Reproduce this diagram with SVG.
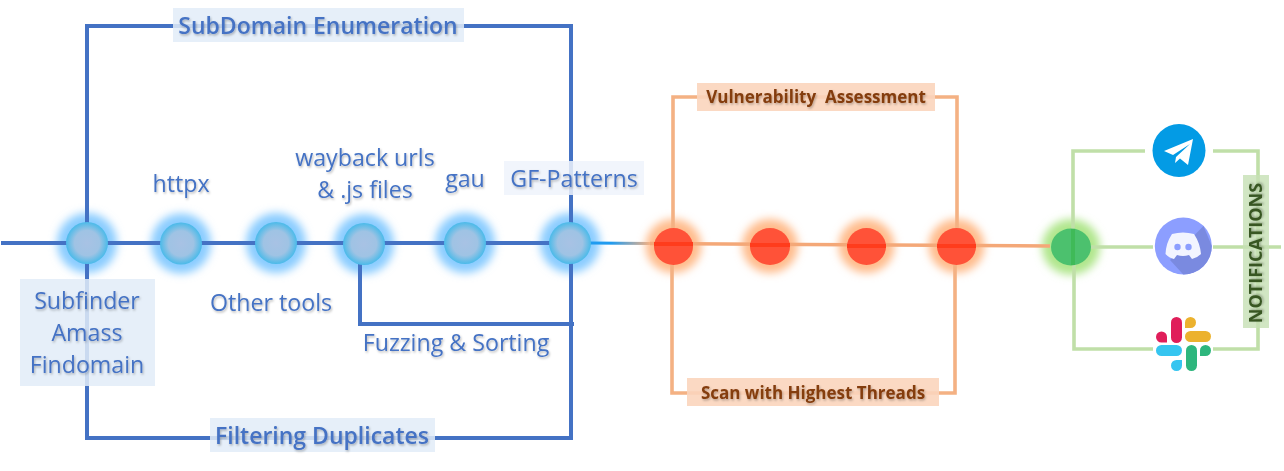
<svg xmlns="http://www.w3.org/2000/svg" width="1284" height="471" viewBox="0 0 1284 471">
<style>
text{font-family:"Open Sans","Noto Sans","Liberation Sans",sans-serif;text-anchor:middle;white-space:pre}
.t{fill:#4472c4;font-size:23.2px;filter:url(#ts)}
.tb{fill:#4472c4;font-size:23px;font-weight:600;filter:url(#ts)}
.to{fill:#843c0c;font-size:17px;font-weight:700;filter:url(#ts)}
.lb{fill:none;stroke:#4472c4;stroke-width:4}
.lo{fill:none;stroke:#f4b183;stroke-width:3.6}
.lg{fill:none;stroke:#c0dfa8;stroke-width:3.6}
.bb{fill:#e2ecf8;opacity:.85}
.bl{fill:#eef3fb;opacity:.85}
.bo{fill:#fbd5bd;opacity:.9}
.gb{fill:#8accff;filter:url(#gl)}
.bc{fill:url(#bn)}
.go{fill:#ffbc8c;filter:url(#gl)}
.rc{fill:#ff5238}
.rb{fill:#ff3c1c}
</style>
<defs>
<filter id="gl" x="-60%" y="-60%" width="220%" height="220%"><feGaussianBlur stdDeviation="4"/></filter>
<filter id="ts" x="-10%" y="-20%" width="120%" height="150%"><feDropShadow dx="1" dy="1.500" stdDeviation="1.200" flood-color="#000" flood-opacity=".28"/></filter>
<radialGradient id="bn"><stop offset="0" stop-color="#a8c2e4"/><stop offset=".6" stop-color="#9fc3e4"/><stop offset="1" stop-color="#4abae9"/></radialGradient>
<linearGradient id="fade" x1="590" x2="650" y1="0" y2="0" gradientUnits="userSpaceOnUse"><stop offset="0" stop-color="#1f9bf0"/><stop offset=".35" stop-color="#1f9bf0"/><stop offset="1" stop-color="#f4b183"/></linearGradient>
</defs>
<g id="glows">
<circle class="gb" cx="87" cy="243" r="30"/><circle class="gb" cx="181" cy="243.500" r="30"/><circle class="gb" cx="276" cy="243" r="30"/><circle class="gb" cx="364" cy="244" r="30"/><circle class="gb" cx="465" cy="243" r="30"/><circle class="gb" cx="570" cy="243" r="30"/>
<ellipse class="go" cx="673.500" cy="246" rx="28" ry="27"/><ellipse class="go" cx="770" cy="246" rx="28" ry="27"/><ellipse class="go" cx="866.500" cy="246" rx="28" ry="27"/><ellipse class="go" cx="956.500" cy="246" rx="28" ry="27"/>
<ellipse cx="1071" cy="247" rx="29" ry="28" fill="#b0e68c" filter="url(#gl)"/>
</g>
<g id="connectors">
<path class="lb" d="M87 243V26H571V438H87V243"/>
<path class="lb" d="M1 243H87L590 243"/>
<path class="lb" d="M360 262V324H574"/>
<path d="M590 243L650 243.500" stroke="url(#fade)" stroke-width="3" fill="none"/>
<path d="M650 243.500L1050 246" stroke="#f4a878" stroke-width="3.600" fill="none"/>
<path class="lo" d="M673 228V97H957V228"/>
<path class="lo" d="M672 265V393H955V265"/>
<path class="lg" d="M1073 232V151H1145M1213 151H1258V349H1213M1153 349H1074V260"/>
<path class="lg" d="M1090 247H1153M1213 247H1281"/>
</g>
<g id="n-sub"><rect class="bb" x="173" y="8" width="291" height="34"/><text class="tb" x="318" y="33.500">SubDomain Enumeration</text></g>
<g id="n-filter"><rect class="bb" x="210" y="418" width="225" height="34"/><text class="tb" x="322" y="444">Filtering Duplicates</text></g>
<g id="n1"><circle class="bc" cx="87" cy="243" r="21"/></g>
<g id="n2"><circle class="bc" cx="181" cy="243.500" r="21"/></g>
<g id="n3"><circle class="bc" cx="276" cy="243" r="21"/></g>
<g id="n4"><circle class="bc" cx="364" cy="244" r="21"/></g>
<g id="n5"><circle class="bc" cx="465" cy="243" r="21"/></g>
<g id="n6"><circle class="bc" cx="570" cy="243" r="21"/></g>
<g id="l-subfinder"><rect class="bb" x="20" y="279" width="135" height="107"/><text class="t" x="87" y="309">Subfinder</text><text class="t" x="87" y="341">Amass</text><text class="t" x="87" y="373">Findomain</text></g>
<g id="l-httpx"><text class="t" x="181" y="192">httpx</text></g>
<g id="l-other"><text class="t" x="271" y="311">Other tools</text></g>
<g id="l-wayback"><text class="t" x="365" y="166">wayback urls</text><text class="t" x="365" y="198">&amp; .js files</text></g>
<g id="l-gau"><text class="t" x="465" y="187">gau</text></g>
<g id="l-gf"><rect class="bl" x="504" y="161" width="140" height="34"/><text class="t" x="574" y="187">GF-Patterns</text></g>
<g id="l-fuzz"><text class="t" x="456" y="351">Fuzzing &amp; Sorting</text></g>
<g id="r1"><ellipse class="rc" cx="673.500" cy="246.500" rx="19.500" ry="18.500"/><rect class="rb" x="654" y="242" width="39" height="4"/></g>
<g id="r2"><ellipse class="rc" cx="770" cy="246.500" rx="20" ry="18.500"/><rect class="rb" x="750" y="243" width="40" height="4"/></g>
<g id="r3"><ellipse class="rc" cx="866.500" cy="246.500" rx="19.500" ry="18.500"/><rect class="rb" x="847" y="244" width="39" height="4"/></g>
<g id="r4"><ellipse class="rc" cx="956.500" cy="246.500" rx="19.500" ry="18.500"/><rect class="rb" x="937" y="244" width="39" height="4"/></g>
<g id="l-vuln"><rect class="bo" x="697" y="83" width="238" height="28"/><text class="to" x="816" y="103">Vulnerability  Assessment</text></g>
<g id="l-scan"><rect class="bo" x="687" y="378" width="252" height="28"/><text class="to" x="813" y="399">Scan with Highest Threads</text></g>
<g id="g1"><ellipse cx="1071" cy="247" rx="20" ry="18.500" fill="#4cc16e"/><rect x="1071" y="229" width="4" height="36" fill="#3fba58"/></g>
<g id="telegram"><circle cx="1179" cy="150.500" r="26.500" fill="#039be5"/><path d="M1193 139L1164 151L1173 155L1190 144L1176 157L1175 163L1180 158.500L1188 165Z" fill="#fff"/></g>
<g id="discord"><circle cx="1183.300" cy="246" r="28.500" fill="#8c9eff"/><path d="M1203.500 226L1211.800 246A28.500 28.500 0 0 1 1183.300 274.500L1170 260Z" fill="#7a8ae0"/><path d="M1172 234Q1183 231 1194 234Q1200 243 1201 254Q1197 258 1192 259L1189 255Q1183 257 1177 255L1174 259Q1169 258 1165.500 254Q1166 243 1172 234Z" fill="#f2f4ff"/><circle cx="1177.500" cy="247" r="3.200" fill="#8c9eff"/><circle cx="1188.500" cy="247" r="3.200" fill="#8c9eff"/></g>
<g id="slack">
<rect x="1171" y="317" width="11" height="26" rx="5.500" fill="#e01e5a"/><path d="M1167 342.500H1161.500a5.500 5.500 0 0 1 0-11 5.500 5.500 0 0 1 5.500 5.500Z" fill="#e01e5a"/>
<rect x="1185" y="331" width="26" height="11" rx="5.500" fill="#ecb22e"/><path d="M1185 328V322.500a5.500 5.500 0 0 1 11 0 5.500 5.500 0 0 1-5.500 5.500Z" fill="#ecb22e"/>
<rect x="1156" y="345" width="26" height="11" rx="5.500" fill="#36c5f0"/><path d="M1182 360V365.500a5.500 5.500 0 1 1-5.500-5.500Z" fill="#36c5f0"/>
<rect x="1186" y="345" width="11" height="26" rx="5.500" fill="#2eb67d"/><path d="M1200 356V350.500a5.500 5.500 0 1 1 5.500 5.500Z" fill="#2eb67d"/>
</g>
<g id="l-notif"><rect x="1243" y="175" width="26" height="153" fill="#c5e0b4" opacity=".8"/><text x="1256" y="253" transform="rotate(-90 1256 253)" dy="6" font-size="18" font-weight="700" fill="#385723" style="filter:url(#ts)">NOTIFICATIONS</text></g>
</svg>
